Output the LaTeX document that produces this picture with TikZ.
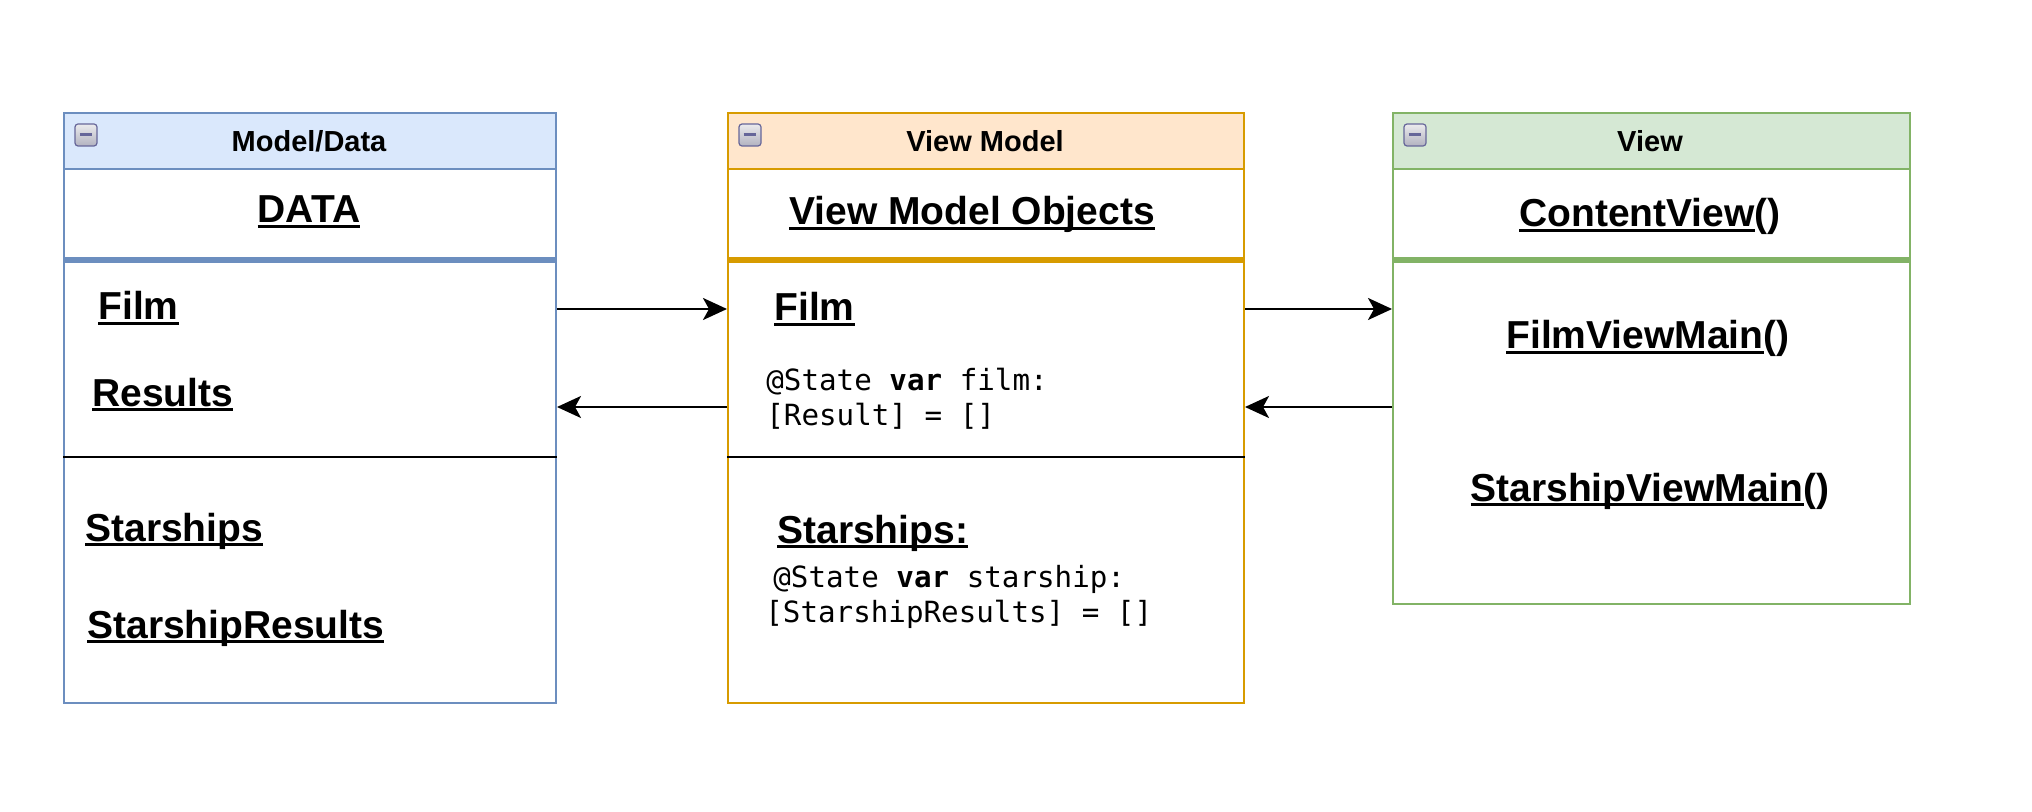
\documentclass[tikz,border=0pt]{standalone}
\usepackage{fontspec}
\setmainfont{Liberation Sans}
\newfontfamily\codefont{DejaVu Sans Mono}
\usetikzlibrary{arrows.meta}

\definecolor{mdfill}{HTML}{DAE8FC}
\definecolor{mdline}{HTML}{6C8EBF}
\definecolor{vmfill}{HTML}{FFE6CC}
\definecolor{vmline}{HTML}{D79B00}
\definecolor{vwfill}{HTML}{D5E8D4}
\definecolor{vwline}{HTML}{82B366}

% underline just below the baseline
\newcommand{\ultext}[1]{\setbox0=\hbox{#1}\rlap{\rule[-0.13em]{\wd0}{0.07em}}\box0}

\begin{document}
\begin{tikzpicture}[x=0.5pt, y=-0.5pt, line join=miter,
  classbody/.style={draw, fill=white, line width=1pt, anchor=north west, inner sep=0pt},
  classhead/.style={draw, line width=1pt, anchor=north west, inner sep=0pt, minimum height=28pt},
  classtitle/.style={font=\bfseries\fontsize{14.5}{17}\selectfont, inner sep=0pt, anchor=base},
  membertext/.style={font=\bfseries\fontsize{19.5}{23}\selectfont, inner sep=0pt},
  codeline/.style={font=\codefont\fontsize{14.6}{17.5}\selectfont, inner sep=0pt, anchor=base west},
  collapsebtn/.style={draw=gray!80!blue, top color=blue!5!gray!15, bottom color=blue!10!gray!55,
    rounded corners=1.5pt, minimum size=11pt, inner sep=0pt, line width=0.6pt,
    path picture={\draw[line width=1.5pt] ([xshift=-3.2pt]path picture bounding box.center)
      -- ([xshift=3.2pt]path picture bounding box.center);}},
  sepline/.style={line width=2.8pt},
  divline/.style={line width=1pt},
  flowarrow/.style={-{Stealth[length=12pt,width=11pt,inset=3pt]}, line width=1.2pt}]

\useasboundingbox (0,0) rectangle (2032,812);

% ---------- Model/Data ----------
\node[classbody, draw=mdline, minimum width=246pt, minimum height=295pt] (model) at (63,112) {};
\node[classhead, draw=mdline, fill=mdfill, minimum width=246pt] (model-head) at (63,112) {};
\node[collapsebtn] (model-btn) at (86,135) {};
\node[classtitle] (model-title) at (309,152) {Model/Data};
\node[membertext, anchor=base] (model-name) at (309,223) {\ultext{DATA}};
\draw[sepline, mdline] (model.west |- 0,260) -- (model.east |- 0,260);
\node[membertext, anchor=base west] (model-film) at (98,320) {\ultext{Film}};
\node[membertext, anchor=base west] (model-results) at (92,406) {\ultext{Results}};
\draw[divline] (model.west |- 0,457) -- (model.east |- 0,457);
\node[membertext, anchor=base west] (model-ships) at (85,541) {\ultext{Starships}};
\node[membertext, anchor=base west] (model-shipres) at (87,638) {\ultext{StarshipResults}};

% ---------- View Model ----------
\node[classbody, draw=vmline, minimum width=258pt, minimum height=295pt] (vm) at (727,112) {};
\node[classhead, draw=vmline, fill=vmfill, minimum width=258pt] (vm-head) at (727,112) {};
\node[collapsebtn] (vm-btn) at (750,135) {};
\node[classtitle] (vm-title) at (985,152) {View Model};
\node[membertext, anchor=base] (vm-name) at (972,225) {\ultext{View Model Objects}};
\draw[sepline, vmline] (vm.west |- 0,260) -- (vm.east |- 0,260);
\node[membertext, anchor=base west] (vm-film) at (774,321) {\ultext{Film}};
\node[codeline] (vm-film-a) at (766,390) {@State \textbf{var} film:};
\node[codeline] (vm-film-b) at (766,425) {[Result] = []};
\draw[divline] (vm.west |- 0,457) -- (vm.east |- 0,457);
\node[membertext, anchor=base west] (vm-ships) at (777,543) {\ultext{Starships:}};
\node[codeline] (vm-ships-a) at (773,587) {@State \textbf{var} starship:};
\node[codeline] (vm-ships-b) at (765,622) {[StarshipResults] = []};

% ---------- View ----------
\node[classbody, draw=vwline, minimum width=258.5pt, minimum height=245.5pt] (view) at (1392,112) {};
\node[classhead, draw=vwline, fill=vwfill, minimum width=258.5pt] (view-head) at (1392,112) {};
\node[collapsebtn] (view-btn) at (1415,135) {};
\node[classtitle] (view-title) at (1650,152) {View};
\node[membertext, anchor=base] (view-name) at (1650,227) {\ultext{ContentView}()};
\draw[sepline, vwline] (view.west |- 0,260) -- (view.east |- 0,260);
\node[membertext, anchor=base] (view-film) at (1648,349) {\ultext{FilmViewMain}()};
\node[membertext, anchor=base] (view-ships) at (1650,501) {\ultext{StarshipViewMain}()};

% ---------- data flow ----------
\draw[flowarrow] (model.east |- 0,309) -- (vm.west |- 0,309);
\draw[flowarrow] (vm.west |- 0,407) -- (model.east |- 0,407);
\draw[flowarrow] (vm.east |- 0,309) -- (view.west |- 0,309);
\draw[flowarrow] (view.west |- 0,407) -- (vm.east |- 0,407);

\end{tikzpicture}
\end{document}
